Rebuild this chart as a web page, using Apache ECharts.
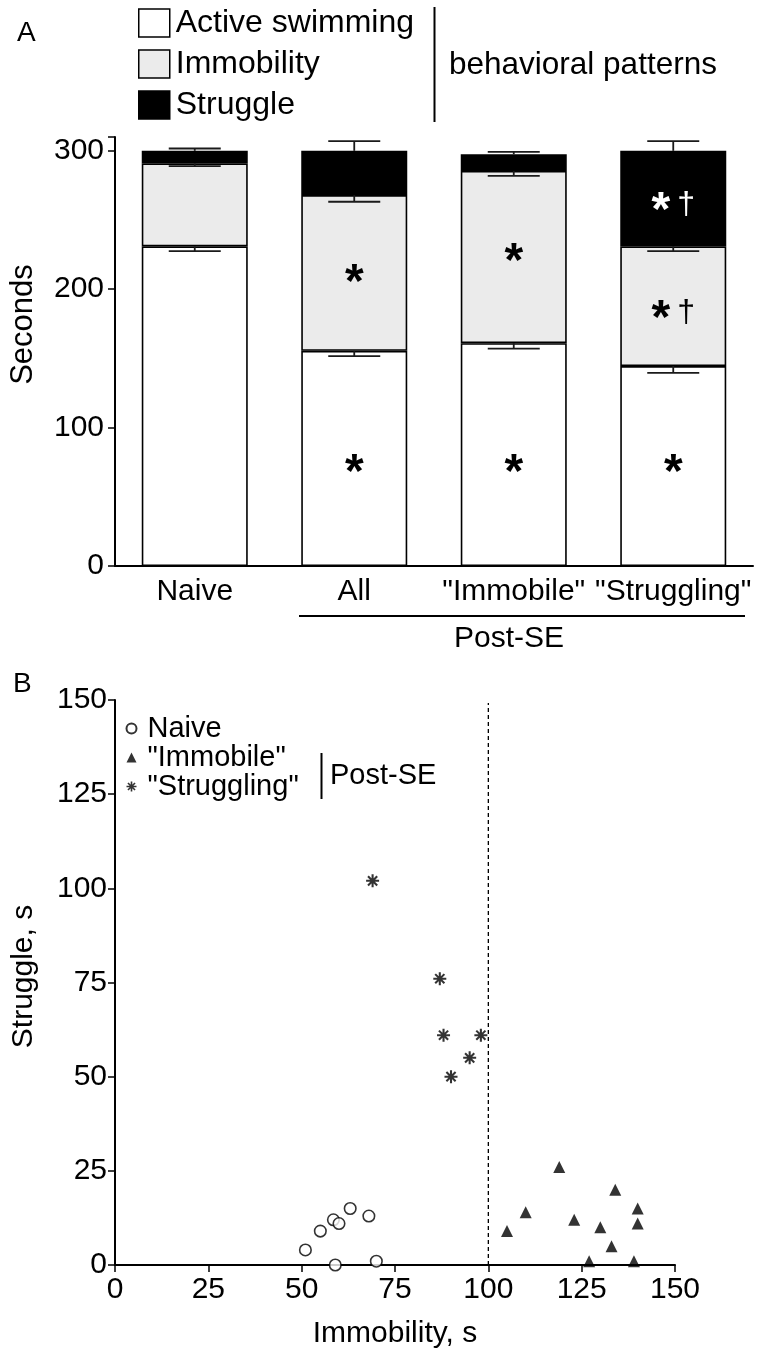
<!DOCTYPE html>
<html>
<head>
<meta charset="utf-8">
<script src="https://cdn.jsdelivr.net/npm/echarts@6/dist/echarts.min.js"></script>
<style>
  html, body { margin: 0; padding: 0; background: #fff; }
  #chart { width: 764px; height: 1351px; }
</style>
</head>
<body>
<div id="chart"></div>
<script>
// ---- panel A: time spent in each behaviour (s), mean and SE ----
const groups = ['Naive', 'All', '"Immobile"', '"Struggling"'];
const activeSwim = [231, 155.5, 161, 144.5];
const immobility = [60, 112.5, 124.5, 86.5];
const struggle = [9, 32, 12, 69];
const activeSE = [3.4, 3.8, 3.9, 4.9];
const immobSE = [2.1, 4.8, 3.6, 3.4];
const struggleSE = [1.7, 7, 1.7, 7];
// significance marks: group index, height (s), star, dagger, colour
const sigMarks = [
  [1, 71.5, '*', '', '#000'],
  [2, 71.5, '*', '', '#000'],
  [3, 71.5, '*', '', '#000'],
  [1, 209, '*', '', '#000'],
  [2, 224.5, '*', '', '#000'],
  [3, 183, '*', '†', '#000'],
  [3, 261, '*', '†', '#fff'],
];

// ---- panel B: immobility vs struggle per animal (s) ----
const naivePts = [[51, 4], [55, 9], [58.5, 12], [60, 11], [63, 15], [68, 13], [59, 0], [70, 1]];
const immobilePts = [[105, 9], [110, 14], [119, 26], [123, 12], [127, 1], [130, 10], [133, 5], [134, 20], [139, 1], [140, 15], [140, 11]];
const strugglingPts = [[69, 102], [87, 76], [88, 61], [98, 61], [95, 55], [90, 50]];
const cutoffX = 100;

const FONT = '"Liberation Sans", Arial, sans-serif';

// error bars: [group, segment top, end of bar]
const errData = [];
groups.forEach((g, i) => {
  const a = activeSwim[i], b = a + immobility[i], c = b + struggle[i];
  errData.push([i, a, a - activeSE[i]]);
  errData.push([i, b, b - immobSE[i]]);
  errData.push([i, c, c + struggleSE[i]]);
});

// 8-spoke asterisk marker
const starPath = 'path://M-1.6,-10L1.6,-10L1.6,10L-1.6,10Z' +
  'M-10,-1.6L10,-1.6L10,1.6L-10,1.6Z' +
  'M-5.94,-8.20L8.20,5.94L5.94,8.20L-8.20,-5.94Z' +
  'M5.94,-8.20L8.20,-5.94L-5.94,8.20L-8.20,5.94Z';

let myChart = echarts.init(document.getElementById('chart'));

const axisLine = { lineStyle: { color: '#000', width: 2 } };
const axisTick = { show: true, length: 7, lineStyle: { color: '#000', width: 1.5 } };

myChart.setOption({
  backgroundColor: '#fff',
  animation: false,
  textStyle: { fontFamily: FONT },
  grid: [
    { left: 115, right: 11, top: 137, bottom: 785 },
    { left: 115, right: 89, top: 700, bottom: 86 },
  ],
  legend: [
    {
      data: ['Active swimming', 'Immobility', 'Struggle'],
      orient: 'vertical',
      left: 138,
      top: 7,
      padding: 0,
      icon: 'rect',
      itemWidth: 31,
      itemHeight: 28,
      itemGap: 9,
      itemStyle: { borderColor: '#000', borderWidth: 1.5 },
      textStyle: { fontSize: 32, lineHeight: 32, color: '#000', fontFamily: FONT, padding: [0, 0, 0, 1] },
      selectedMode: false,
    },
    {
      data: ['Naive', '"Immobile"', '"Struggling"'],
      orient: 'vertical',
      left: 125.5,
      top: 714,
      padding: 0,
      itemWidth: 10,
      itemHeight: 10,
      itemGap: 0,
      textStyle: { fontSize: 29, lineHeight: 28.5, color: '#000', fontFamily: FONT, padding: [0, 0, 0, 6] },
      selectedMode: false,
    },
  ],
  xAxis: [
    {
      type: 'category',
      gridIndex: 0,
      data: groups,
      axisLine: axisLine,
      axisTick: { show: false },
      axisLabel: { color: '#000', fontSize: 30, margin: 11, interval: 0, fontFamily: FONT },
    },
    {
      type: 'value',
      gridIndex: 1,
      min: 0,
      max: 150,
      interval: 25,
      name: 'Immobility, s',
      nameLocation: 'middle',
      nameGap: 54,
      nameTextStyle: { color: '#000', fontSize: 30, fontFamily: FONT },
      axisLine: axisLine,
      axisTick: axisTick,
      splitLine: { show: false },
      axisLabel: { color: '#000', fontSize: 30, margin: 10, fontFamily: FONT },
    },
  ],
  yAxis: [
    {
      type: 'value',
      gridIndex: 0,
      min: 0,
      max: 310,
      interval: 100,
      name: 'Seconds',
      nameLocation: 'middle',
      nameGap: 76,
      nameTextStyle: { color: '#000', fontSize: 31, fontFamily: FONT, padding: [0, 0, 0, 54] },
      axisLine: { show: true, lineStyle: { color: '#000', width: 2 } },
      axisTick: axisTick,
      splitLine: { show: false },
      axisLabel: { color: '#000', fontSize: 30, margin: 11, fontFamily: FONT,
        formatter: (v) => (v % 100 === 0 ? v : '') },
    },
    {
      type: 'value',
      gridIndex: 1,
      min: 0,
      max: 150,
      interval: 25,
      name: 'Struggle, s',
      nameLocation: 'middle',
      nameGap: 76,
      nameTextStyle: { color: '#000', fontSize: 30, fontFamily: FONT, padding: [0, 0, 0, 12] },
      axisLine: { show: true, lineStyle: { color: '#000', width: 2 } },
      axisTick: axisTick,
      splitLine: { show: false },
      axisLabel: { color: '#000', fontSize: 30, margin: 8, fontFamily: FONT },
    },
  ],
  series: [
    {
      name: 'Active swimming', type: 'bar', stack: 'time', data: activeSwim,
      xAxisIndex: 0, yAxisIndex: 0, barWidth: 106,
      itemStyle: { color: '#fff', borderColor: '#000', borderWidth: 1.6 },
    },
    {
      name: 'Immobility', type: 'bar', stack: 'time', data: immobility,
      xAxisIndex: 0, yAxisIndex: 0, barWidth: 106,
      itemStyle: { color: '#ebebeb', borderColor: '#000', borderWidth: 1.6 },
    },
    {
      name: 'Struggle', type: 'bar', stack: 'time', data: struggle,
      xAxisIndex: 0, yAxisIndex: 0, barWidth: 106,
      itemStyle: { color: '#000', borderColor: '#000', borderWidth: 1.6 },
    },
    {
      // SE bars
      type: 'custom', xAxisIndex: 0, yAxisIndex: 0, z: 5,
      data: errData,
      renderItem: function (params, api) {
        const p1 = api.coord([api.value(0), api.value(1)]);
        const p2 = api.coord([api.value(0), api.value(2)]);
        const half = 26;
        const st = { stroke: '#1a1a1a', lineWidth: 1.8 };
        return {
          type: 'group',
          children: [
            { type: 'line', shape: { x1: p1[0], y1: p1[1], x2: p1[0], y2: p2[1] }, style: st },
            { type: 'line', shape: { x1: p1[0] - half, y1: p2[1], x2: p1[0] + half, y2: p2[1] }, style: st },
          ],
        };
      },
    },
    {
      // significance marks
      type: 'custom', xAxisIndex: 0, yAxisIndex: 0, z: 6,
      data: sigMarks.map((m) => [m[0], m[1]]),
      renderItem: function (params, api) {
        const m = sigMarks[params.dataIndex];
        const p = api.coord([api.value(0), api.value(1)]);
        const txt = m[3] ? '{s|' + m[2] + '}{d|' + m[3] + '}' : '{s|' + m[2] + '}';
        return {
          type: 'text',
          x: p[0], y: p[1],
          style: {
            text: txt,
            align: 'center',
            verticalAlign: 'middle',
            fill: m[4],
            rich: {
              s: { fontSize: 48, fontWeight: 'bold', fontFamily: FONT, fill: m[4], padding: [14, 0, 0, 0] },
              d: { fontSize: 32, fontFamily: FONT, fill: m[4], padding: [0, 0, 0, 7] },
            },
          },
        };
      },
    },
    {
      name: 'Naive', type: 'scatter', xAxisIndex: 1, yAxisIndex: 1,
      data: naivePts, symbol: 'circle', symbolSize: 11.5,
      itemStyle: { color: '#fff', borderColor: '#000', borderWidth: 1.6 },
    },
    {
      name: '"Immobile"', type: 'scatter', xAxisIndex: 1, yAxisIndex: 1,
      data: immobilePts, symbol: 'triangle', symbolSize: 12,
      itemStyle: { color: '#000' },
    },
    {
      name: '"Struggling"', type: 'scatter', xAxisIndex: 1, yAxisIndex: 1,
      data: strugglingPts, symbol: starPath, symbolSize: 13,
      itemStyle: { color: '#000' },
    },
    {
      // cut-off at 100 s immobility
      type: 'line', xAxisIndex: 1, yAxisIndex: 1,
      data: [[cutoffX, 0], [cutoffX, 149.2]],
      symbol: 'none', silent: true,
      lineStyle: { color: '#000', width: 1.3, type: [4, 3] },
    },
  ],
  graphic: [
    { type: 'text', left: 17, top: 19, style: { text: 'A', fontSize: 28, fontFamily: FONT, fill: '#000' } },
    { type: 'text', left: 13, top: 670, style: { text: 'B', fontSize: 28, fontFamily: FONT, fill: '#000' } },
    { type: 'line', shape: { x1: 434.5, y1: 7, x2: 434.5, y2: 122 }, style: { stroke: '#000', lineWidth: 2 } },
    { type: 'text', x: 449, y: 65, style: { text: 'behavioral patterns', fontSize: 31.5, fontFamily: FONT, fill: '#000', verticalAlign: 'middle' } },
    { type: 'line', shape: { x1: 299, y1: 616, x2: 745, y2: 616 }, style: { stroke: '#000', lineWidth: 2.2 } },
    { type: 'text', x: 509, y: 639, style: { text: 'Post-SE', fontSize: 30, fontFamily: FONT, fill: '#000', align: 'center', verticalAlign: 'middle' } },
    { type: 'line', shape: { x1: 321.5, y1: 753, x2: 321.5, y2: 799 }, style: { stroke: '#000', lineWidth: 2 } },
    { type: 'text', x: 330, y: 776, style: { text: 'Post-SE', fontSize: 29, fontFamily: FONT, fill: '#000', verticalAlign: 'middle' } },
  ],
});
window.addEventListener('resize', () => {
  myChart.resize();
});
</script>
</body>
</html>
